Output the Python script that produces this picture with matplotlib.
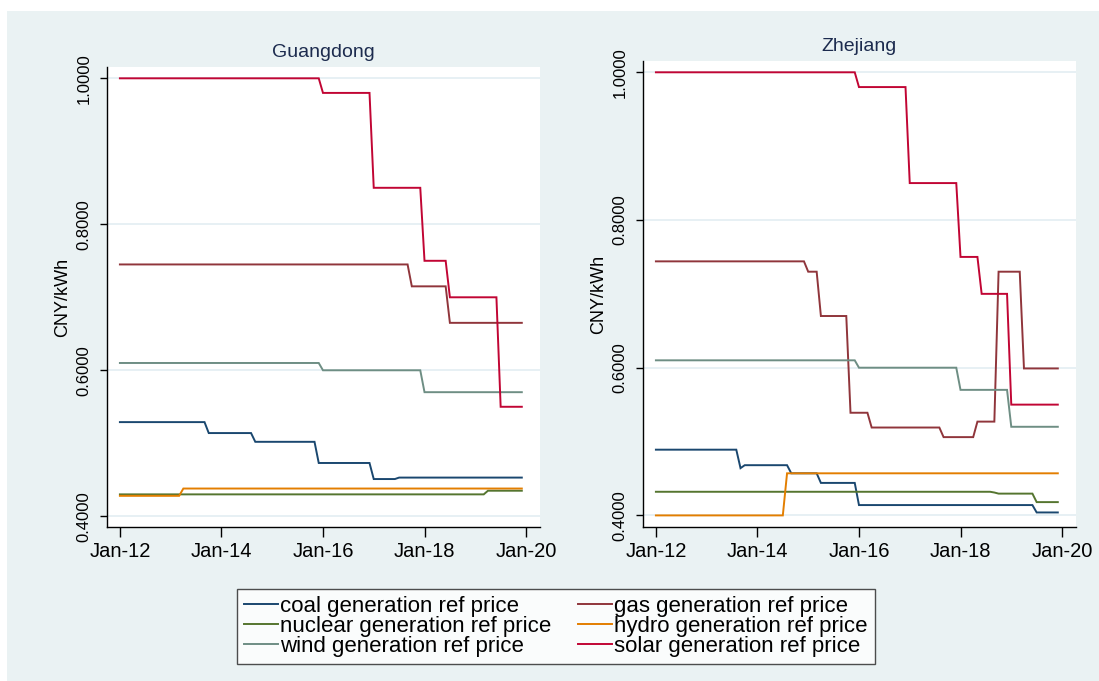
import numpy as np
import matplotlib
matplotlib.use("Agg")
import matplotlib.pyplot as plt
from matplotlib.patches import Rectangle

plt.rcParams['font.family'] = ['Liberation Sans', 'DejaVu Sans']

# ---- data: months since Jan-2012 (0 = Jan-12 ... 95 = Dec-19) where a price level starts, and the level (CNY/kWh)
N_MONTHS = 96
x_tick_pos = [0, 24, 48, 72, 96]
x_tick_labels = ["Jan-12", "Jan-14", "Jan-16", "Jan-18", "Jan-20"]
y_ticks = [0.4, 0.6, 0.8, 1.0]

series_labels = ["coal generation ref price", "gas generation ref price",
                 "nuclear generation ref price", "hydro generation ref price",
                 "wind generation ref price", "solar generation ref price"]
series_colors = ["#1A476F", "#90353B", "#55752F", "#E37E00", "#6E8E84", "#C10534"]

# Guangdong
gd_coal_start = [0, 21, 32, 47, 60, 66]
gd_coal_val = [0.529, 0.514, 0.502, 0.473, 0.451, 0.453]
gd_gas_start = [0, 69, 78]
gd_gas_val = [0.745, 0.715, 0.665]
gd_nuclear_start = [0, 87]
gd_nuclear_val = [0.430, 0.435]
gd_hydro_start = [0, 15]
gd_hydro_val = [0.428, 0.438]
gd_wind_start = [0, 48, 72]
gd_wind_val = [0.61, 0.60, 0.57]
gd_solar_start = [0, 48, 60, 72, 78, 90]
gd_solar_val = [1.00, 0.98, 0.85, 0.75, 0.70, 0.55]

# Zhejiang
zj_coal_start = [0, 20, 21, 32, 39, 48, 90]
zj_coal_val = [0.489, 0.464, 0.468, 0.457, 0.444, 0.414, 0.404]
zj_gas_start = [0, 36, 39, 46, 51, 68, 76, 81, 87]
zj_gas_val = [0.744, 0.730, 0.670, 0.539, 0.519, 0.506, 0.527, 0.730, 0.599]
zj_nuclear_start = [0, 80, 81, 90]
zj_nuclear_val = [0.432, 0.431, 0.4295, 0.418]
zj_hydro_start = [0, 31]
zj_hydro_val = [0.400, 0.457]
zj_wind_start = [0, 48, 72, 84]
zj_wind_val = [0.61, 0.60, 0.57, 0.52]
zj_solar_start = [0, 48, 60, 72, 77, 84]
zj_solar_val = [1.00, 0.98, 0.85, 0.75, 0.70, 0.55]


def monthly(starts, vals, n=N_MONTHS):
    """Price level held from each start month until the next change."""
    return np.repeat(vals, np.diff(np.r_[starts, n]))


panels = [
    ("Guangdong", [(gd_coal_start, gd_coal_val), (gd_gas_start, gd_gas_val),
                   (gd_nuclear_start, gd_nuclear_val), (gd_hydro_start, gd_hydro_val),
                   (gd_wind_start, gd_wind_val), (gd_solar_start, gd_solar_val)]),
    ("Zhejiang", [(zj_coal_start, zj_coal_val), (zj_gas_start, zj_gas_val),
                  (zj_nuclear_start, zj_nuclear_val), (zj_hydro_start, zj_hydro_val),
                  (zj_wind_start, zj_wind_val), (zj_solar_start, zj_solar_val)]),
]

W, H = 1099, 681
fig = plt.figure(figsize=(W / 100, H / 100), dpi=100)
fig.patch.set_facecolor("white")
BG = "#EAF2F3"
fig.patches.append(Rectangle((7 / W, 0), 1 - 7 / W, 1 - 11 / H, transform=fig.transFigure,
                             facecolor=BG, edgecolor="none", zorder=-10))

# axes rectangles in pixels: (left, top, right, bottom)
rects = [(107, 67, 540, 527), (643, 61, 1076, 527)]
ylims = [(0.3853, 1.0155), (0.3843, 1.0153)]

months = np.arange(N_MONTHS)
handles = []
for i, ((title, data), (l, t, r, b), yl) in enumerate(zip(panels, rects, ylims)):
    ax = fig.add_axes([l / W, 1 - b / H, (r - l) / W, (b - t) / H])
    ax.set_facecolor("white")
    for (starts, vals), col, lab in zip(data, series_colors, series_labels):
        h, = ax.plot(months, monthly(starts, vals), color=col, lw=1.4, label=lab,
                     solid_joinstyle="miter")
        if i == 0:
            handles.append(h)
    ax.set_xlim(-3.05, 99.3)
    ax.set_ylim(*yl)
    ax.set_xticks(x_tick_pos)
    ax.set_xticklabels(x_tick_labels, fontsize=14.5)
    ax.set_yticks(y_ticks)
    ax.set_yticklabels([f"{v:.4f}" for v in y_ticks], fontsize=12, rotation=90,
                       va="center")
    ax.tick_params(axis="x", length=7, width=1, pad=4, color="black")
    ax.tick_params(axis="y", length=5, width=1, pad=6, color="black")
    ax.grid(axis="y", color="#E3EEF2", lw=1.2)
    ax.set_axisbelow(True)
    for s in ["top", "right"]:
        ax.spines[s].set_visible(False)
    for s in ["left", "bottom"]:
        ax.spines[s].set_color("black")
        ax.spines[s].set_linewidth(1.0)
    ax.set_ylabel("CNY/kWh", fontsize=13, labelpad=4)
    ax.set_title(title, fontsize=14, color="#1C2B4E", pad=7)

# row-major order like the reference legend (matplotlib fills columns first)
order = [0, 2, 4, 1, 3, 5]
leg = fig.legend([handles[k] for k in order], [series_labels[k] for k in order],
                 ncol=2, loc="center",
                 bbox_to_anchor=(556 / W, 1 - 626.5 / H), fontsize=16,
                 frameon=True, fancybox=False, edgecolor="#222222",
                 handlelength=1.5, handletextpad=0.12, columnspacing=1.2,
                 labelspacing=-0.04, borderpad=0.32, borderaxespad=0)
leg.get_frame().set_linewidth(1.0)
leg.get_frame().set_facecolor("white")

fig.savefig("out.png", dpi=100, facecolor=fig.get_facecolor())
